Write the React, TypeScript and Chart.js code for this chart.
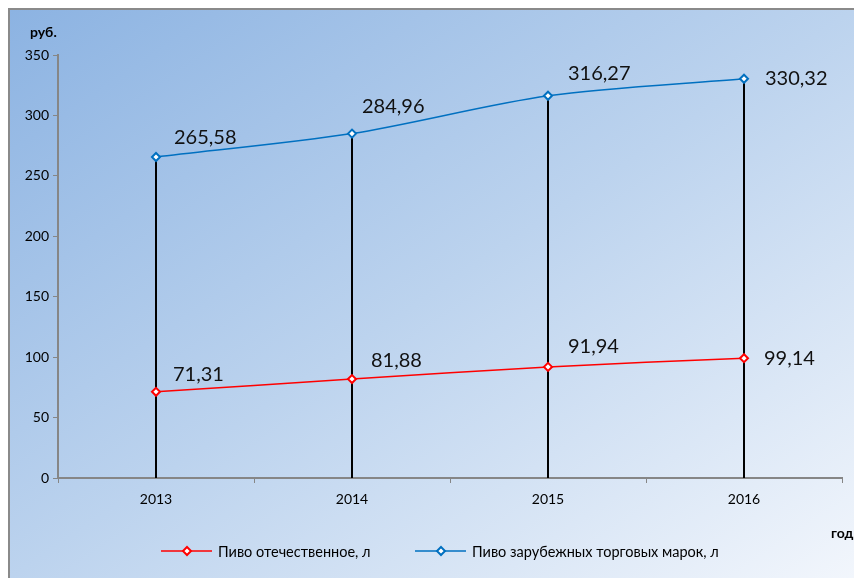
import React, { useEffect, useRef } from "react";
import { Chart, registerables } from "chart.js";

Chart.register(...registerables);

const years = ["2013", "2014", "2015", "2016"];
const domesticBeer = [71.31, 81.88, 91.94, 99.14];
const foreignBeer = [265.58, 284.96, 316.27, 330.32];
const domesticLabel = "Пиво отечественное, л";
const foreignLabel = "Пиво зарубежных торговых марок, л";
const yUnit = "руб.";
const xUnit = "год";

// label offsets (style only): [dx, dy] per point, per series
const labelOffsets = [
  [[17, -17], [19, -18], [20, -20], [20, 0]],
  [[18, -19], [10, -27], [20, -22], [21, 0]],
];

const FONT = "Lato, 'Noto Sans', sans-serif";
const RED = "#ff0000";
const BLUE = "#0070c0";

const fmt = (v: number) => v.toFixed(2).replace(".", ",");

function drawDiamond(ctx: CanvasRenderingContext2D, x: number, y: number, r: number, color: string) {
  ctx.save();
  ctx.beginPath();
  ctx.moveTo(x, y - r);
  ctx.lineTo(x + r, y);
  ctx.lineTo(x, y + r);
  ctx.lineTo(x - r, y);
  ctx.closePath();
  ctx.fillStyle = "#ffffff";
  ctx.fill();
  ctx.lineWidth = 2;
  ctx.strokeStyle = color;
  ctx.stroke();
  ctx.restore();
}

const extras = {
  id: "extras",
  beforeDatasetsDraw(chart: any) {
    const ctx = chart.ctx as CanvasRenderingContext2D;
    const meta = chart.getDatasetMeta(1);
    const bottom = chart.scales.y.getPixelForValue(0);
    ctx.save();
    ctx.strokeStyle = "#000000";
    ctx.lineWidth = 2;
    meta.data.forEach((pt: any) => {
      ctx.beginPath();
      ctx.moveTo(pt.x, pt.y);
      ctx.lineTo(pt.x, bottom);
      ctx.stroke();
    });
    ctx.restore();
  },
  afterDatasetsDraw(chart: any) {
    const ctx = chart.ctx as CanvasRenderingContext2D;
    ctx.save();
    ctx.fillStyle = "#111111";
    ctx.font = `20px ${FONT}`;
    ctx.textAlign = "left";
    ctx.textBaseline = "middle";
    [0, 1].forEach((di) => {
      const meta = chart.getDatasetMeta(di);
      const data = chart.data.datasets[di].data as number[];
      meta.data.forEach((pt: any, i: number) => {
        const [dx, dy] = labelOffsets[di][i];
        ctx.fillText(fmt(data[i]), pt.x + dx, pt.y + dy);
      });
    });
    // axis titles
    ctx.font = `bold 14px ${FONT}`;
    ctx.fillStyle = "#000000";
    ctx.textAlign = "left";
    ctx.fillText(yUnit, 20, 22);
    ctx.fillText(xUnit, 821, 523);
    // legend
    ctx.font = `14.5px ${FONT}`;
    const items = [
      { label: domesticLabel, color: RED, x: 151 },
      { label: foreignLabel, color: BLUE, x: 405 },
    ];
    const ly = 541;
    items.forEach((it) => {
      ctx.beginPath();
      ctx.strokeStyle = it.color;
      ctx.lineWidth = 1.5;
      ctx.moveTo(it.x, ly);
      ctx.lineTo(it.x + 51, ly);
      ctx.stroke();
      drawDiamond(ctx, it.x + 26, ly, 4, it.color);
      ctx.fillStyle = "#000000";
      ctx.fillText(it.label, it.x + 57, ly + 1);
    });
    ctx.restore();
  },
};

export default function App() {
  const ref = useRef<HTMLCanvasElement | null>(null);
  useEffect(() => {
    if (!ref.current) return;
    const chart = new Chart(ref.current, {
      type: "line",
      data: {
        labels: years,
        datasets: [
          {
            label: domesticLabel,
            data: domesticBeer,
            borderColor: RED,
            borderWidth: 1.5,
            backgroundColor: "#ffffff",
            pointStyle: "rectRot",
            pointRadius: 4,
            pointBorderWidth: 2,
            pointBorderColor: RED,
            pointBackgroundColor: "#ffffff",
            tension: 0.3,
          },
          {
            label: foreignLabel,
            data: foreignBeer,
            borderColor: BLUE,
            borderWidth: 1.5,
            backgroundColor: "#ffffff",
            pointStyle: "rectRot",
            pointRadius: 4,
            pointBorderWidth: 2,
            pointBorderColor: BLUE,
            pointBackgroundColor: "#ffffff",
            tension: 0.3,
          },
        ],
      },
      options: {
        animation: false,
        responsive: true,
        maintainAspectRatio: false,
        layout: { padding: { top: 45, right: 12, bottom: 70, left: 0 } },
        plugins: {
          legend: { display: false },
          tooltip: { enabled: false },
        },
        scales: {
          x: {
            type: "category",
            offset: true,
            grid: {
              offset: true,
              drawOnChartArea: false,
              drawTicks: true,
              tickLength: 5,
              color: "#868686",
            },
            border: { color: "#868686", width: 2 },
            ticks: {
              color: "#000000",
              font: { family: FONT, size: 14 },
              padding: 8,
              maxRotation: 0,
            },
            afterFit(scale: any) {
              scale.height = 30;
            },
          },
          y: {
            min: 0,
            max: 350,
            grid: {
              drawOnChartArea: false,
              drawTicks: true,
              tickLength: 5,
              color: "#868686",
            },
            border: { color: "#868686", width: 2 },
            ticks: {
              stepSize: 50,
              color: "#000000",
              font: { family: FONT, size: 14 },
              padding: 4,
            },
            afterFit(scale: any) {
              scale.width = 48;
            },
          },
        },
      },
      plugins: [extras],
    });
    return () => chart.destroy();
  }, []);

  return (
    <div
      style={{
        position: "fixed",
        left: 8,
        top: 8,
        width: 844,
        height: 568,
        borderLeft: "2px solid #8a8a8a",
        borderTop: "2px solid #8a8a8a",
        background: "linear-gradient(to bottom right, #8cb3e2 0%, #bcd3ee 50%, #f2f6fc 100%)",
        overflow: "hidden",
      }}
    >
      <canvas ref={ref} />
    </div>
  );
}
